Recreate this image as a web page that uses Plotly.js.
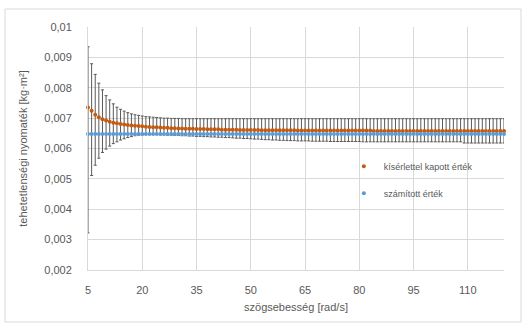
<!DOCTYPE html>
<html>
<head>
<meta charset="utf-8">
<script src="https://cdn.plot.ly/plotly-3.0.1.min.js"></script>
<style>html,body{margin:0;padding:0;background:#fff;}#chart{width:526px;height:328px;}</style>
</head>
<body>
<div id="chart"></div>
<script>
// angular velocity [rad/s]
const omega = [5,6,7,8,9,10,11,12,13,14,15,16,17,18,19,20,21,22,23,24,25,26,27,28,29,30,
  31,32,33,34,35,36,37,38,39,40,41,42,43,44,45,46,47,48,49,50,51,52,53,54,55,56,57,58,59,60,
  61,62,63,64,65,66,67,68,69,70,71,72,73,74,75,76,77,78,79,80,81,82,83,84,85,86,87,88,89,90,
  91,92,93,94,95,96,97,98,99,100,101,102,103,104,105,106,107,108,109,110,111,112,113,114,115,116,117,118,119,120];

// experimental moment of inertia [kg·m²]
const measured = [0.00735,0.00724,0.00711,0.00703,0.00696,0.00692,0.00688,0.00685,0.00683,0.00681,
  0.00679,0.00677,0.00676,0.00675,0.00674,0.00673,0.00672,0.00671,0.00670,0.00670,
  0.00669,0.00668,0.00668,0.00667,0.00667,0.00666,0.00666,0.00665,0.00665,0.00665,
  0.00664,0.00664,0.00664,0.00663,0.00663,0.00663,0.00663,0.00662,0.00662,0.00662,
  0.00662,0.00662,0.00661,0.00661,0.00661,0.00661,0.00661,0.00661,0.00660,0.00660,
  0.00660,0.00660,0.00660,0.00660,0.00660,0.00660,0.00660,0.00660,0.00659,0.00659,
  0.00659,0.00659,0.00659,0.00659,0.00659,0.00659,0.00659,0.00659,0.00659,0.00659,
  0.00659,0.00659,0.00659,0.00659,0.00659,0.00659,0.00659,0.00659,0.00659,0.00658,
  0.00658,0.00658,0.00658,0.00658,0.00658,0.00658,0.00658,0.00658,0.00658,0.00658,
  0.00658,0.00658,0.00658,0.00658,0.00658,0.00658,0.00658,0.00658,0.00658,0.00658,
  0.00658,0.00658,0.00658,0.00658,0.00658,0.00658,0.00658,0.00658,0.00658,0.00658,
  0.00658,0.00658,0.00658,0.00658,0.00658,0.00658];

// upper end of the error bars
const upper = [0.00935,0.00879,0.00844,0.00815,0.00793,0.00774,0.00760,0.00747,0.00736,0.00729,
  0.00723,0.00718,0.00714,0.00711,0.00709,0.00707,0.00705,0.00704,0.00703,0.00702,
  0.00701,0.00700,0.00700,0.00699,0.00699,0.00699,0.00698,0.00698,0.00698,0.00698,
  0.00698,0.00698,0.00698,0.00698,0.00698,0.00698,0.00698,0.00698,0.00698,0.00698,
  0.00698,0.00698,0.00698,0.00698,0.00698,0.00698,0.00698,0.00698,0.00698,0.00698,
  0.00698,0.00698,0.00698,0.00698,0.00698,0.00698,0.00698,0.00698,0.00698,0.00698,
  0.00698,0.00698,0.00698,0.00698,0.00698,0.00698,0.00698,0.00698,0.00698,0.00698,
  0.00698,0.00698,0.00698,0.00698,0.00698,0.00698,0.00698,0.00698,0.00698,0.00698,
  0.00698,0.00698,0.00698,0.00698,0.00698,0.00698,0.00698,0.00698,0.00698,0.00698,
  0.00698,0.00698,0.00698,0.00698,0.00698,0.00698,0.00698,0.00698,0.00698,0.00698,
  0.00698,0.00698,0.00698,0.00698,0.00698,0.00698,0.00698,0.00698,0.00698,0.00698,
  0.00698,0.00698,0.00698,0.00698,0.00698,0.00698];

// lower end of the error bars
const lower = [0.00322,0.00511,0.00545,0.00568,0.00587,0.00598,0.00608,0.00616,0.00622,0.00628,
  0.00632,0.00636,0.00639,0.00642,0.00644,0.00645,0.00646,0.00646,0.00646,0.00646,
  0.00645,0.00645,0.00644,0.00644,0.00643,0.00643,0.00642,0.00642,0.00641,0.00641,
  0.00640,0.00640,0.00639,0.00639,0.00638,0.00638,0.00637,0.00637,0.00636,0.00636,
  0.00635,0.00634,0.00634,0.00633,0.00633,0.00632,0.00631,0.00631,0.00630,0.00629,
  0.00629,0.00628,0.00628,0.00627,0.00627,0.00626,0.00626,0.00626,0.00625,0.00625,
  0.00625,0.00625,0.00624,0.00624,0.00624,0.00624,0.00624,0.00623,0.00623,0.00623,
  0.00623,0.00623,0.00623,0.00623,0.00623,0.00623,0.00622,0.00622,0.00622,0.00622,
  0.00622,0.00622,0.00622,0.00622,0.00622,0.00622,0.00622,0.00622,0.00622,0.00622,
  0.00622,0.00622,0.00622,0.00622,0.00622,0.00622,0.00622,0.00622,0.00622,0.00622,
  0.00622,0.00622,0.00622,0.00622,0.00618,0.00618,0.00618,0.00618,0.00618,0.00618,
  0.00618,0.00618,0.00618,0.00618,0.00618,0.00618];

// calculated moment of inertia
const calculated = [0.00648,0.00648,0.00648,0.00648,0.00648,0.00648,0.00648,0.00648,0.00648,0.00648,
  0.00648,0.00648,0.00648,0.00648,0.00648,0.00648,0.00648,0.00648,0.00648,0.00648,
  0.00648,0.00648,0.00648,0.00648,0.00648,0.00648,0.00648,0.00648,0.00648,0.00648,
  0.00648,0.00648,0.00648,0.00648,0.00648,0.00648,0.00648,0.00648,0.00648,0.00648,
  0.00648,0.00648,0.00648,0.00648,0.00648,0.00648,0.00648,0.00648,0.00648,0.00648,
  0.00648,0.00648,0.00648,0.00648,0.00648,0.00648,0.00648,0.00648,0.00648,0.00648,
  0.00648,0.00648,0.00648,0.00648,0.00648,0.00648,0.00648,0.00648,0.00648,0.00648,
  0.00648,0.00648,0.00648,0.00648,0.00648,0.00648,0.00648,0.00648,0.00648,0.00648,
  0.00648,0.00648,0.00648,0.00648,0.00648,0.00648,0.00648,0.00648,0.00648,0.00648,
  0.00648,0.00648,0.00648,0.00648,0.00648,0.00648,0.00648,0.00648,0.00648,0.00648,
  0.00648,0.00648,0.00648,0.00648,0.00648,0.00648,0.00648,0.00648,0.00648,0.00648,
  0.00648,0.00648,0.00648,0.00648,0.00648,0.00648];

const seriesNames = ['kísérlettel kapott érték', 'számított érték'];
const xTickVals = [5,20,35,50,65,80,95,110];
const xTickText = ['5','20','35','50','65','80','95','110'];
const yTickVals = [0.002,0.003,0.004,0.005,0.006,0.007,0.008,0.009,0.01];
const yTickText = ['0,002','0,003','0,004','0,005','0,006','0,007','0,008','0,009','0,01'];
const xTitle = 'szögsebesség [rad/s]';
const yTitle = 'tehetetlenségi nyomaték [kg·m²]';

const errPlus = upper.map((u, i) => u - measured[i]);
const errMinus = lower.map((l, i) => measured[i] - l);

const FONT = 'Liberation Sans, Arial, sans-serif';
const TXT = '#595959';
const GRID = '#D9D9D9';

const traces = [
  {
    type: 'scatter', mode: 'markers', name: seriesNames[0],
    x: omega, y: measured, legendgroup: 'a',
    marker: {color: '#C55A11', size: 4},
    cliponaxis: false,
    error_y: {type: 'data', symmetric: false, array: errPlus, arrayminus: errMinus,
              color: '#595959', thickness: 1, width: 1.5}
  },
  {
    type: 'scatter', mode: 'markers', name: seriesNames[1],
    x: omega, y: calculated, legendgroup: 'b',
    marker: {color: '#5B9BD5', size: 4},
    cliponaxis: false
  }
];

const layout = {
  width: 526, height: 328,
  margin: {l: 88, r: 22, t: 27, b: 58},
  paper_bgcolor: '#fff', plot_bgcolor: '#fff',
  separators: ', ',
  font: {family: FONT, color: TXT, size: 11},
  showlegend: true,
  legend: {x: 0.615, y: 0.487, xanchor: 'left', yanchor: 'top',
           font: {size: 9, color: TXT, family: FONT},
           traceorder: 'grouped', tracegroupgap: 8, bgcolor: 'rgba(0,0,0,0)'},
  xaxis: {
    range: [5, 120], tickmode: 'array', tickvals: xTickVals, ticktext: xTickText,
    showgrid: true, gridcolor: GRID, gridwidth: 1, zeroline: false,
    showline: true, linecolor: GRID, linewidth: 1, ticks: '',
    ticklabelstandoff: 10,
    tickfont: {size: 11, color: TXT},
    title: {text: xTitle, font: {size: 11, color: TXT}, standoff: 8},
    automargin: false
  },
  yaxis: {
    range: [0.002, 0.01], tickmode: 'array', tickvals: yTickVals, ticktext: yTickText,
    showgrid: true, gridcolor: GRID, gridwidth: 1, zeroline: false,
    showline: true, linecolor: GRID, linewidth: 1, ticks: '',
    ticklabelstandoff: 13,
    tickfont: {size: 11, color: TXT},
    title: {text: yTitle, font: {size: 11, color: TXT}, standoff: 14},
    automargin: false
  },
  shapes: [{
    type: 'rect', xref: 'paper', yref: 'paper',
    x0: -0.1995, x1: 1.0409, y0: -0.214, y1: 1.074,
    line: {color: GRID, width: 1}, fillcolor: 'rgba(0,0,0,0)', layer: 'below'
  }]
};

Plotly.newPlot('chart', traces, layout, {staticPlot: true, displayModeBar: false});
</script>
</body>
</html>
